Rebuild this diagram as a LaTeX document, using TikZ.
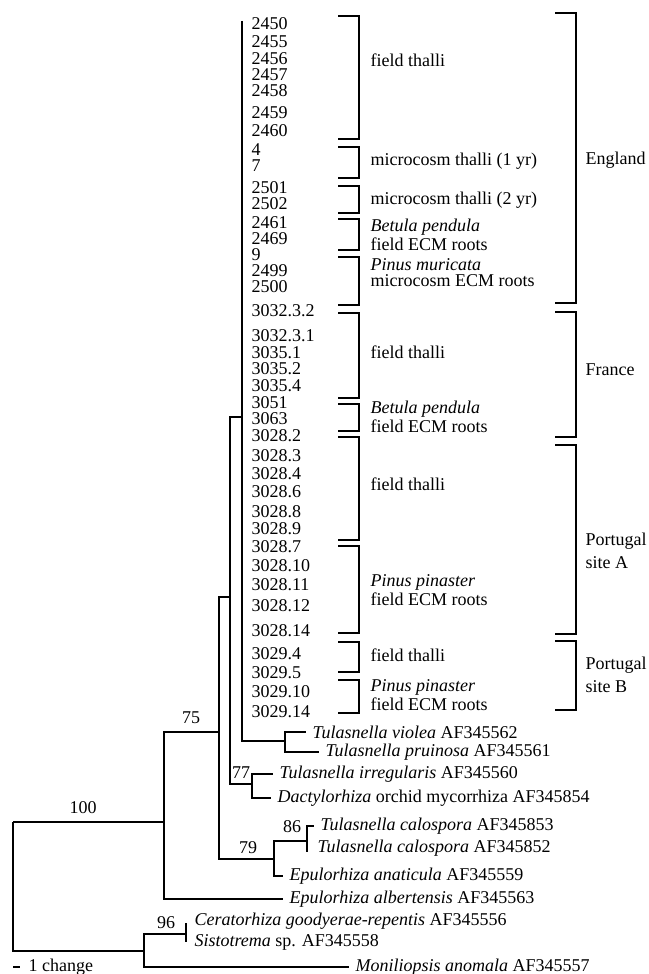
\documentclass[tikz,border=0pt]{standalone}
\usepackage{fontspec}
\setmainfont{Liberation Serif}

\begin{document}
\begin{tikzpicture}[x=0.5pt,y=-0.5pt,line width=0.6pt,
    font=\fontsize{9}{11}\selectfont,
    strain/.style={anchor=west,inner sep=0pt},
    taxon/.style={anchor=west,inner sep=3pt},
    group/.style={anchor=west,inner sep=0pt,align=left,font=\fontsize{9}{8}\selectfont},
    site/.style={anchor=west,inner sep=0pt,align=left,font=\fontsize{9}{11.5}\selectfont},
    boot/.style={inner sep=0pt}]
  \useasboundingbox (0,0) rectangle (648,974);

  % isolates in the big clade
  \foreach \y/\t [count=\i] in {24/2450,42/2455,59/2456,75/2457,91/2458,113/2459,131/2460,
      150/4,166/7,188/2501,204/2502,223/2461,239/2469,255/9,271/2499,287/2500,
      311/3032.3.2,336/3032.3.1,353/3035.1,369/3035.2,386/3035.4,403/3051,419/3063,
      436/3028.2,456/3028.3,474/3028.4,492/3028.6,512/3028.8,529/3028.9,
      547/3028.7,566/3028.10,585/3028.11,606/3028.12,631/3028.14,
      654/3029.4,673/3029.5,692/3029.10,712/3029.14}
    \node[strain] (s\i) at (251,\y) {\t};

  % sample brackets
  \foreach \a/\b/\c/\t [count=\i] in {16/139/60/field thalli,
      147/178/161/microcosm thalli (1 yr),
      186/213/200/microcosm thalli (2 yr),
      219/250/235/\textit{Betula pendula}\\field ECM roots,
      257/305/273/\textit{Pinus muricata}\\microcosm ECM roots,
      313/398/352/field thalli,
      404/431/417/\textit{Betula pendula}\\field ECM roots,
      437/540/484/field thalli,
      546/633/590/\textit{Pinus pinaster}\\field ECM roots,
      642/672/655/field thalli,
      680/713/695/\textit{Pinus pinaster}\\field ECM roots}
  {
    \draw (338,\a) -| (359,\b) -- (338,\b);
    \node[group] (g\i) at (370,\c) {\t};
  }

  % site brackets
  \foreach \a/\b/\c/\t [count=\i] in {13/303/160/England,
      312/437/370/France,
      445/634/551/Portugal\\site A,
      641/710/675/Portugal\\site B}
  {
    \draw (555,\a) -| (576,\b) -- (555,\b);
    \node[site] (r\i) at (585,\c) {\t};
  }

  % internal nodes
  \coordinate (n100) at (13,822);
  \coordinate (n75) at (164,822);
  \coordinate (nC) at (219,732);
  \coordinate (nB) at (230,597);
  \coordinate (nA) at (242,417);
  \coordinate (nAtop) at (242,21);
  \coordinate (nVP) at (285,741);
  \coordinate (n77) at (252,784);
  \coordinate (n79) at (274,859);
  \coordinate (n86) at (307,841);
  \coordinate (nOG) at (144,951);
  \coordinate (n96) at (186,934);

  % named taxa
  \node[taxon] (violea) at (306,732) {\textit{Tulasnella violea} AF345562};
  \node[taxon] (pruinosa) at (319,752) {\textit{Tulasnella pruinosa} AF345561};
  \node[taxon] (irreg) at (273,774) {\textit{Tulasnella irregularis} AF345560};
  \node[taxon] (dacty) at (271,798) {\textit{Dactylorhiza} orchid mycorrhiza AF345854};
  \node[taxon] (calo1) at (314,826) {\textit{Tulasnella calospora} AF345853};
  \node[taxon] (calo2) at (311,848) {\textit{Tulasnella calospora} AF345852};
  \node[taxon] (anat) at (283,876) {\textit{Epulorhiza anaticula} AF345559};
  \node[taxon] (albert) at (283,899) {\textit{Epulorhiza albertensis} AF345563};
  \node[taxon] (cerato) at (188,921) {\textit{Ceratorhiza goodyerae-repentis} AF345556};
  \node[taxon] (sisto) at (188,942) {\textit{Sistotrema} sp. AF345558};
  \node[taxon] (monil) at (349,967) {\textit{Moniliopsis anomala} AF345557};

  % branches
  \draw (n100) -- (n75);
  \draw (n100) |- (nOG);
  \draw (n75) |- (nC);
  \draw (n75) |- (albert);
  \draw (nC) |- (nB);
  \draw (nC) |- (n79);
  \draw (nB) |- (nA);
  \draw (nB) |- (n77);
  \draw (nAtop) -- (nA) |- (nVP);
  \draw (nVP) |- (violea);
  \draw (nVP) |- (pruinosa);
  \draw (n77) |- (irreg);
  \draw (n77) |- (dacty);
  \draw (n79) |- (n86);
  \draw (n79) |- (anat);
  \draw (n86) |- (calo1);
  \draw (n86) -- ([yshift=-2pt]n86 |- calo2);
  \draw (nOG) |- (n96);
  \draw (nOG) |- (monil);
  \draw ([yshift=-1pt]n96 |- cerato) -- (n96 |- sisto);

  % bootstrap values
  \node[boot] (b100) at (83,808) {100};
  \node[boot] (b75) at (191,718) {75};
  \node[boot] (b77) at (241,773) {77};
  \node[boot] (b79) at (248,848) {79};
  \node[boot] (b86) at (292,827) {86};
  \node[boot] (b96) at (166,923) {96};

  % scale bar
  \coordinate (bar) at (13,967);
  \node[strain] (scale) at (28,967) {1 change};
  \draw (bar) -- ++(7,0);
\end{tikzpicture}
\end{document}
